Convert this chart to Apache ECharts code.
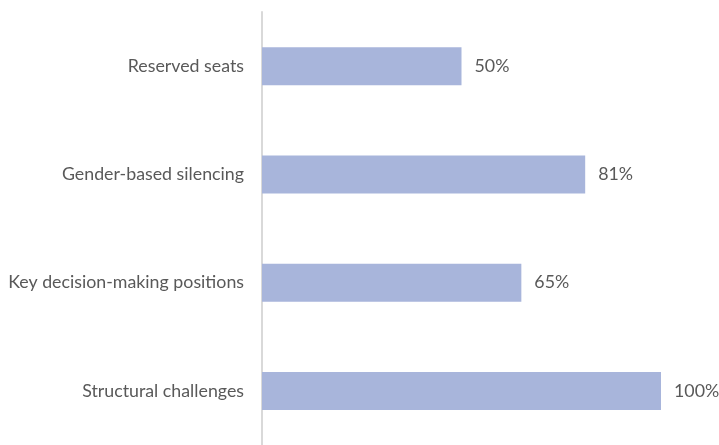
<!DOCTYPE html>
<html>
<head>
<meta charset="utf-8">
<script src="https://cdn.jsdelivr.net/npm/echarts@6/dist/echarts.min.js"></script>
<style>
  html, body { margin: 0; padding: 0; background: #ffffff; }
  #chart { width: 719px; height: 445px; }
</style>
</head>
<body>
<div id="chart"></div>
<script>
// Categories listed bottom-to-top (category axis on y runs upward)
const categories = [
  'Structural challenges',
  'Key decision-making positions',
  'Gender-based silencing',
  'Reserved seats'
];
const shares = [100, 65, 81, 50];

const FONT = 'Lato, "Open Sans", sans-serif';

const chart = echarts.init(document.getElementById('chart'));
chart.setOption({
  animation: false,
  textStyle: { fontFamily: FONT },
  grid: { left: 262, top: 12, width: 399, height: 437.5, containLabel: false },
  xAxis: {
    type: 'value',
    min: 0,
    max: 100,
    show: false
  },
  yAxis: {
    type: 'category',
    data: categories,
    axisLine: { show: true, lineStyle: { color: '#d9d9d9', width: 2 } },
    axisTick: { show: false },
    axisLabel: { color: '#595959', fontSize: 17.8, margin: 18, fontFamily: FONT }
  },
  series: [{
    type: 'bar',
    data: shares,
    barWidth: 38,
    itemStyle: { color: '#a8b5db' },
    label: {
      show: true,
      position: 'right',
      distance: 13,
      color: '#595959',
      fontSize: 17.8,
      fontFamily: FONT,
      formatter: p => p.value + '%'
    }
  }]
});
</script>
</body>
</html>
